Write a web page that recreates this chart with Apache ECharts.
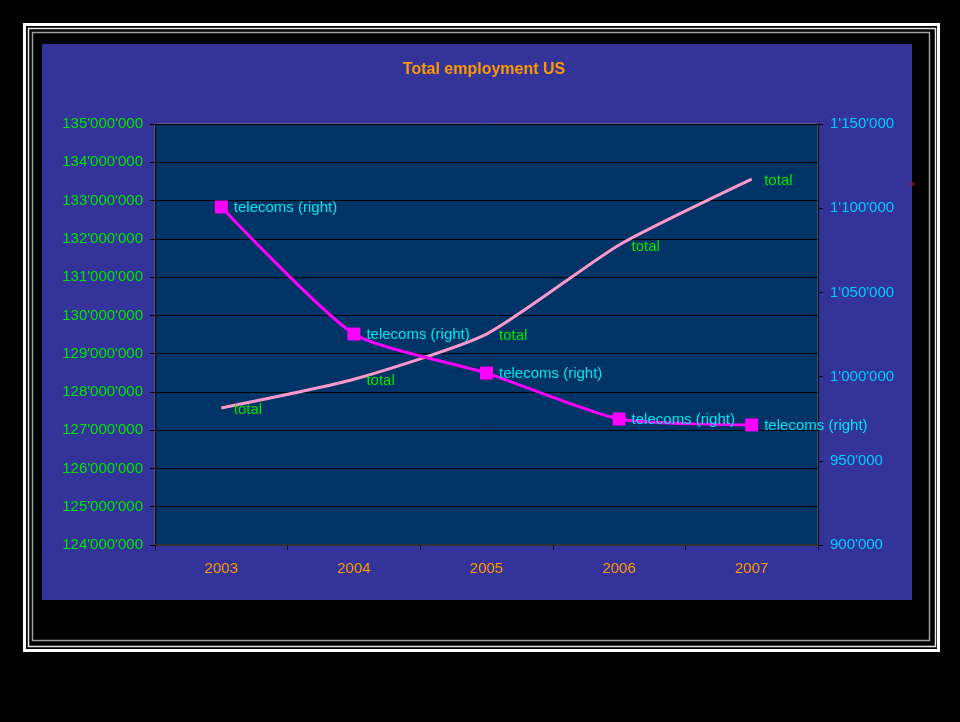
<!DOCTYPE html>
<html>
<head>
<meta charset="utf-8">
<script src="https://cdn.jsdelivr.net/npm/echarts@6/dist/echarts.min.js"></script>
<style>
html,body{margin:0;padding:0;background:#000;}
#chart{width:960px;height:722px;}
</style>
</head>
<body>
<div id="chart"></div>
<script>
const years = ['2003', '2004', '2005', '2006', '2007'];
const totalEmployment = [127580000, 128330000, 129510000, 131840000, 133560000];
const telecoms = [1100700, 1025300, 1002100, 974800, 971300];
const leftTicks = { min: 124000000, max: 135000000, interval: 1000000 };
const rightTicks = { min: 900000, max: 1150000, interval: 50000 };

function fmt(v) {
  return String(Math.round(v)).replace(/\B(?=(\d{3})+(?!\d))/g, "'");
}

const FONT = 'Liberation Sans';
const chart = echarts.init(document.getElementById('chart'), null, { renderer: 'canvas' });

chart.setOption({
  backgroundColor: '#000000',
  animation: false,
  textStyle: { fontFamily: FONT },
  graphic: [
    { type: 'rect', z: -10, shape: { x: 24.5, y: 24.5, width: 914, height: 626 }, style: { fill: 'none', stroke: '#ffffff', lineWidth: 3 } },
    { type: 'rect', z: -10, shape: { x: 28.5, y: 28.5, width: 907, height: 618 }, style: { fill: 'none', stroke: '#e8e8e8', lineWidth: 1.5 } },
    { type: 'rect', z: -10, shape: { x: 32.5, y: 32.5, width: 897, height: 608 }, style: { fill: 'none', stroke: '#a0a0a0', lineWidth: 1.5 } },
    { type: 'rect', z: -10, shape: { x: 42, y: 44, width: 870, height: 556 }, style: { fill: '#333399' } },
    { type: 'rect', z: -10, shape: { x: 911, y: 183, width: 3, height: 2 }, style: { fill: '#cc0000' } }
  ],
  title: {
    text: 'Total employment US',
    left: 479,
    textAlign: 'center',
    top: 57,
    textStyle: { color: '#ff9900', fontSize: 16, fontWeight: 'bold', fontFamily: FONT }
  },
  grid: {
    left: 155, right: 142, top: 124, bottom: 177,
    show: true,
    backgroundColor: '#003366',
    borderColor: '#808080',
    borderWidth: 1
  },
  xAxis: {
    type: 'category',
    data: years,
    boundaryGap: true,
    axisLine: { show: true, lineStyle: { color: '#333333', width: 2 } },
    axisTick: { show: true, inside: false, length: 5, lineStyle: { color: '#111111' } },
    axisLabel: { color: '#ff9900', fontSize: 15, margin: 16, fontFamily: FONT }
  },
  yAxis: [
    {
      type: 'value',
      position: 'left',
      min: leftTicks.min, max: leftTicks.max, interval: leftTicks.interval,
      axisLine: { show: true, lineStyle: { color: '#000000', width: 1 } },
      axisTick: { show: true, length: 5, lineStyle: { color: '#000000' } },
      splitLine: { show: true, lineStyle: { color: '#000000', width: 1 } },
      axisLabel: { color: '#00e600', fontSize: 15, margin: 12, fontFamily: FONT, formatter: fmt }
    },
    {
      type: 'value',
      position: 'right',
      min: rightTicks.min, max: rightTicks.max, interval: rightTicks.interval,
      axisLine: { show: true, lineStyle: { color: '#000000', width: 1 } },
      axisTick: { show: true, length: 5, lineStyle: { color: '#000000' } },
      splitLine: { show: false },
      axisLabel: { color: '#00ccff', fontSize: 15, margin: 12, fontFamily: FONT, formatter: fmt }
    }
  ],
  series: [
    {
      name: 'total',
      type: 'line',
      yAxisIndex: 0,
      data: totalEmployment,
      smooth: 0.2,
      showSymbol: true,
      symbol: 'circle',
      symbolSize: 1,
      lineStyle: { color: '#ff99cc', width: 3 },
      itemStyle: { color: 'rgba(255,153,204,0)', borderWidth: 0 },
      label: {
        show: true, position: 'right', distance: 12, offset: [0, 2],
        color: '#00e600', fontSize: 15, fontFamily: FONT,
        formatter: 'total'
      },
      z: 2
    },
    {
      name: 'telecoms (right)',
      type: 'line',
      yAxisIndex: 1,
      data: telecoms,
      smooth: 0.2,
      symbol: 'rect',
      symbolSize: 13,
      lineStyle: { color: '#ff00ff', width: 3 },
      itemStyle: { color: '#ff00ff' },
      label: {
        show: true, position: 'right', distance: 6, offset: [0, 1],
        color: '#00e5ee', fontSize: 15, fontFamily: FONT,
        formatter: 'telecoms (right)'
      },
      z: 3
    }
  ]
});
</script>
</body>
</html>
